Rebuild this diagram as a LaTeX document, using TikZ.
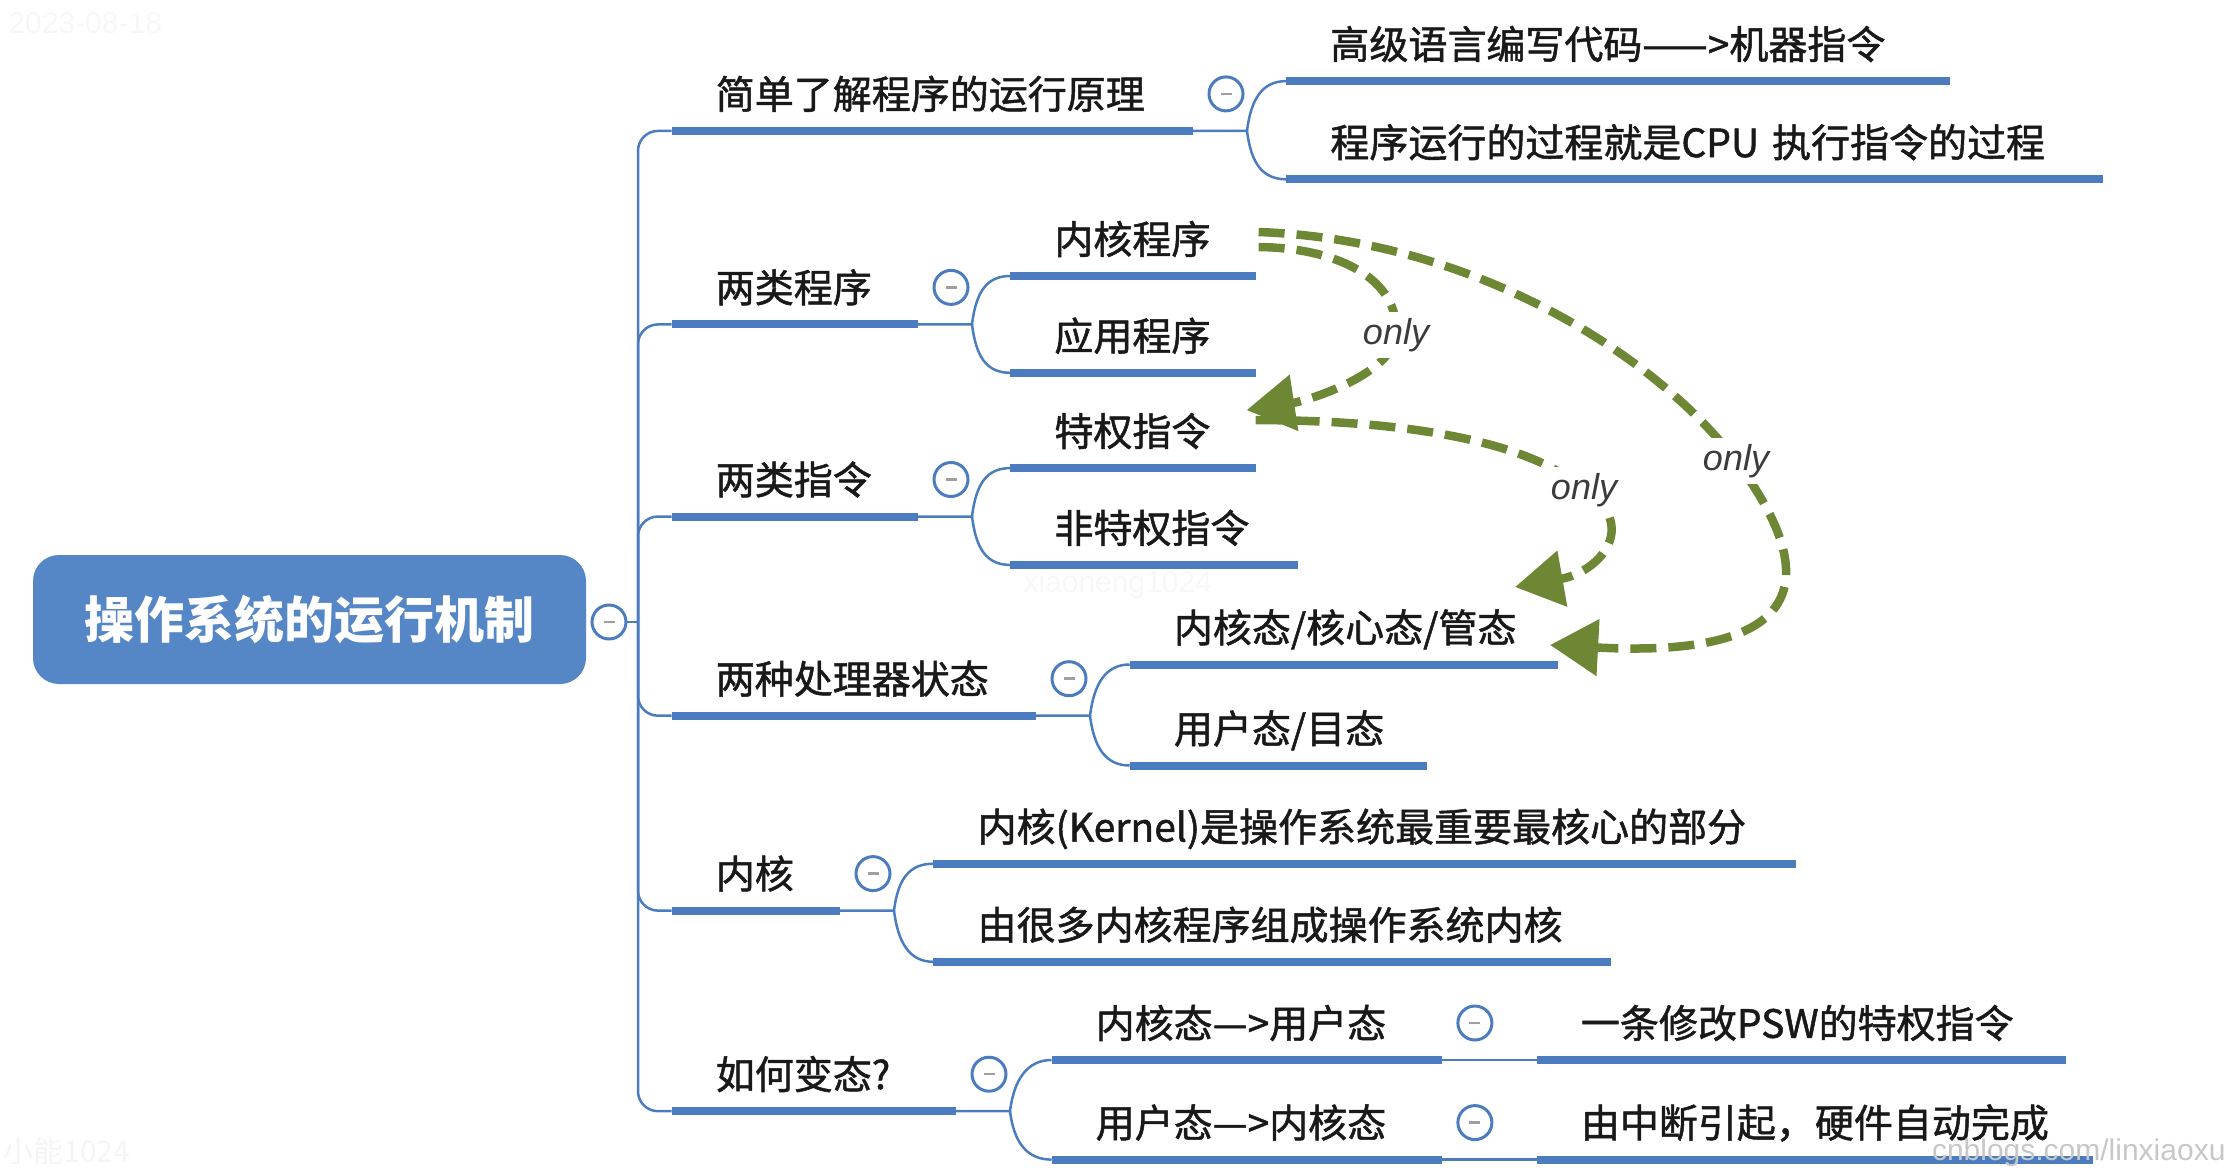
\documentclass[tikz,border=0pt]{standalone}
\usepackage{fontspec}
\setmainfont{Noto Sans CJK SC}
\newfontfamily\topicfont{Noto Sans CJK SC}[FakeBold=1.3]
\newfontfamily\onlyfont{Liberation Sans}
\usetikzlibrary{arrows.meta}
\definecolor{rootblue}{RGB}{85,134,198}
\definecolor{lineblue}{RGB}{76,124,192}
\definecolor{onlygreen}{RGB}{109,135,52}
\definecolor{onlygray}{RGB}{60,60,60}
\newcommand{\foldbar}{\textcolor{gray!75}{\rule{11pt}{2.5pt}}}

\tikzset{
  root/.style={fill=rootblue, rounded corners=26pt, minimum width=553pt, minimum height=129pt,
    text=white, font=\bfseries\fontsize{50pt}{56pt}\selectfont},
  topic/.style={anchor=south west, align=left, inner xsep=44pt, inner ysep=16pt,
    text height=30pt, text depth=6pt, text=black!90, font=\topicfont\fontsize{39pt}{44pt}\selectfont},
  uline/.style={draw=lineblue, line width=8pt},
  link/.style={draw=lineblue, line width=2.5pt},
  fold/.style={circle, draw=lineblue, line width=3pt, fill=white, minimum size=34pt, inner sep=0pt},
  onlyarrow/.style={draw=onlygreen, line width=8.5pt, dash pattern=on 26pt off 12pt,
    -{Triangle[length=48pt,width=55pt]}},
  onlylab/.style={fill=white, inner sep=6pt, text=onlygray,
    font=\onlyfont\itshape\fontsize{36pt}{40pt}\selectfont},
  wmark/.style={font=\onlyfont\fontsize{30pt}{32pt}\selectfont},
}

\begin{document}
\begin{tikzpicture}[x=1pt, y=-1pt]
  \useasboundingbox (0,0) rectangle (2231,1170);

  % faint watermarks
  \node[wmark, text=black!3, anchor=west] (wm1) at (5,23) {2023-08-18};
  \node[wmark, text=black!3, anchor=west] (wm2) at (1020,585) {xiaoneng1024};
  \node[wmark, text=black!4, anchor=base west] (wm3) at (0,1162) {\rmfamily 小能1024};

  % root
  \node[root] (root) at (309.5,619.5) {操作系统的运行机制};
  \coordinate (hub) at (638,622);

  % first level
  \node[topic, text width=433pt] (b1) at (671.6,130.9) {简单了解程序的运行原理};
  \node[topic, text width=158pt] (b2) at (671.6,324.4) {两类程序};
  \node[topic, text width=158pt] (b3) at (671.6,516.5) {两类指令};
  \node[topic, text width=276pt] (b4) at (671.6,715.7) {两种处理器状态};
  \node[topic, text width=80pt]  (b5) at (671.6,910.6) {内核};
  \node[topic, text width=196pt] (b6) at (671.6,1111.2) {如何变态?};

  % second level
  \node[topic, text width=575pt] (c11) at (1286.2,81.1) {高级语言编写代码——>机器指令};
  \node[topic, text width=728pt] (c12) at (1286.2,179.3) {程序运行的过程就是CPU~执行指令的过程};
  \node[topic, text width=157pt] (c21) at (1010.2,276) {内核程序};
  \node[topic, text width=157pt] (c22) at (1010.2,372.8) {应用程序};
  \node[topic, text width=157pt] (c31) at (1010.2,468.1) {特权指令};
  \node[topic, text width=199pt] (c32) at (1010.2,564.9) {非特权指令};
  \node[topic, text width=340pt] (c41) at (1129.7,664.5) {内核态/核心态/管态};
  \node[topic, text width=209pt] (c42) at (1129.7,765.5) {用户态/目态};
  \node[topic, text width=774pt] (c51) at (933.4,863.7) {内核(Kernel)是操作系统最重要最核心的部分};
  \node[topic, text width=589pt] (c52) at (933.4,961.8) {由很多内核程序组成操作系统内核};
  \node[topic, text width=302pt] (c61) at (1051.5,1060) {内核态—>用户态};
  \node[topic, text width=302pt] (c62) at (1051.5,1159.6) {用户态—>内核态};

  % third level
  \node[topic, text width=441pt] (d1) at (1536.7,1060) {一条修改PSW的特权指令};
  \node[topic, text width=468pt] (d2) at (1536.7,1159.6) {由中断引起，硬件自动完成};

  % connectors
  \draw[link] (hub) -- ++(-12,0);
  \foreach \n in {1,...,6}
    \draw[link, rounded corners=20pt] (hub) |- (b\n.south west);
  \foreach \p/\u/\v in {b1/c11/c12, b2/c21/c22, b3/c31/c32, b4/c41/c42, b5/c51/c52, b6/c61/c62}{
    \draw[link] (\p.south east) -- ++(54,0) coordinate (j)
      .. controls +(4,-32) and +(-24,0) .. (\u.south west);
    \draw[link] (j) .. controls +(4,32) and +(-24,0) .. (\v.south west);
  }
  \draw[link] (c61.south east) -- (d1.south west);
  \draw[link] (c62.south east) -- (d2.south west);

  \foreach \n in {b1,b2,b3,b4,b5,b6,c11,c12,c21,c22,c31,c32,c41,c42,c51,c52,c61,c62,d1,d2}
    \draw[uline] (\n.south west) -- (\n.south east);

  % fold buttons
  \node[fold] (f0) at (609,622) {\foldbar};
  \foreach \n in {b1,b2,b3,b4,b5,b6,c61,c62}
    \node[fold] (f\n) at ([xshift=33pt,yshift=37pt]\n.south east) {\foldbar};

  % only arrows
  \draw[onlyarrow] ([yshift=48pt]c31.south east)
    .. controls (1400,420) and (1530,440) .. (1584,490) node[onlylab] (o2) {only}
    .. controls (1640,525) and (1600,572) .. ([xshift=-43pt,yshift=77.5pt]c41.south east);
  \draw[onlyarrow] ([xshift=3pt,yshift=44pt]c21.south east)
    .. controls (1480,240) and (1660,360) .. (1736,461) node[onlylab] (o3) {only}
    .. controls (1810,560) and (1830,660) .. ([xshift=-8pt,yshift=19.5pt]c41.south east);
  \draw[onlyarrow] ([xshift=3pt,yshift=29pt]c21.south east)
    .. controls (1340,248) and (1400,280) .. (1396,335) node[onlylab] (o1) {only}
    .. controls (1392,375) and (1306,401) .. ([xshift=-9pt,yshift=58pt]c31.south east);

  \node[wmark, text=black!22, anchor=base east] (wm4) at (2229,1160) {cnblogs.com/linxiaoxu};
\end{tikzpicture}
\end{document}
